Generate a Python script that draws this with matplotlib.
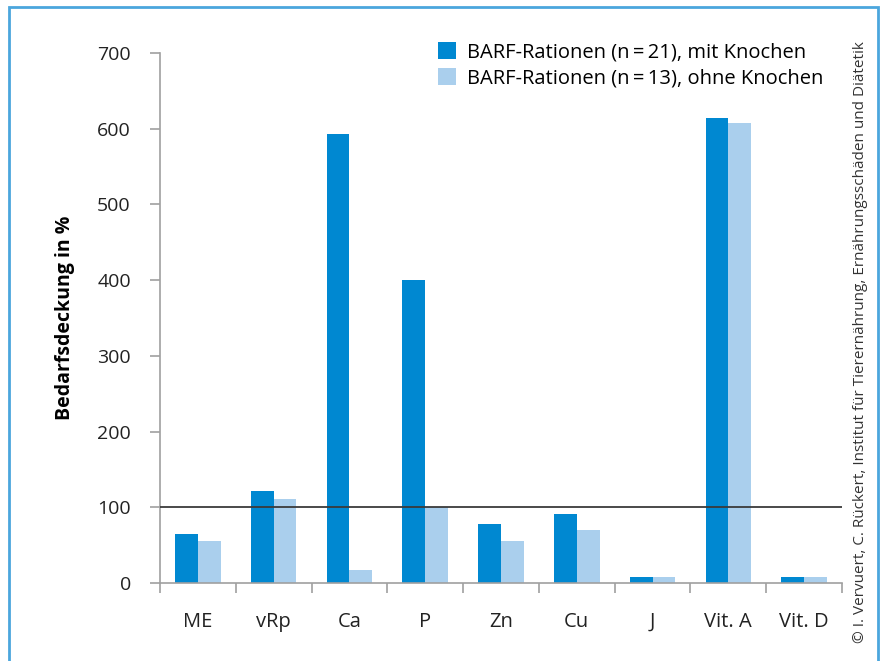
import numpy as np
import matplotlib.pyplot as plt
from matplotlib.patches import Rectangle

plt.rcParams['font.family'] = ['Open Sans', 'DejaVu Sans']

categories = ["ME", "vRp", "Ca", "P", "Zn", "Cu", "J", "Vit. A", "Vit. D"]
mit_knochen = [65, 122, 593, 400, 78, 91, 8, 614, 8]
ohne_knochen = [56, 111, 17, 100, 56, 70, 8, 608, 8]
labels = ["BARF-Rationen (n\u2009=\u200921), mit Knochen", "BARF-Rationen (n\u2009=\u200913), ohne Knochen"]

c_dark = "#0088d1"
c_light = "#aacfed"
c_axis = "#a0a0a0"

fig = plt.figure(figsize=(8.81, 6.61), dpi=100)
ax = fig.add_axes([160/881, 1 - 583/661, (842 - 160)/881, (583 - 53)/661])

x = np.arange(len(categories))
w = 0.30
ax.bar(x - w/2, mit_knochen, w, color=c_dark, label=labels[0])
ax.bar(x + w/2, ohne_knochen, w, color=c_light, label=labels[1])

# 100 % Bedarfslinie
ax.axhline(100, color="#3a3a3a", linewidth=1.3, zorder=3)

ax.set_xlim(-0.5, len(categories) - 0.5)
ax.set_ylim(0, 700)
ax.set_yticks(np.arange(0, 701, 100))
ax.set_xticks(x)
ax.set_xticklabels(categories, fontsize=14.5, color="#222222")
ax.set_xticks(np.arange(-0.5, len(categories), 1), minor=True)
ax.tick_params(axis="x", which="major", length=0, pad=21)
ax.tick_params(axis="x", which="minor", length=7, color=c_axis, width=1.2)
ax.tick_params(axis="y", length=7, color=c_axis, width=1.2, labelsize=14, pad=14, labelcolor="#222222")

for s in ["top", "right"]:
    ax.spines[s].set_visible(False)
for s in ["left", "bottom"]:
    ax.spines[s].set_color(c_axis)
    ax.spines[s].set_linewidth(1.2)

ax.set_ylabel("Bedarfsdeckung in %", fontsize=14, fontweight="bold", labelpad=16)

ax.legend(loc="upper left", bbox_to_anchor=(438/881, 1 - 42/661), bbox_transform=fig.transFigure,
          frameon=False, fontsize=14.5, borderpad=0, borderaxespad=0,
          handlelength=0.9, handleheight=0.9, handletextpad=0.55, labelspacing=0.3)

fig.text(860/881, 1 - 342/661, "© I. Vervuert, C. Rückert, Institut für Tierernährung, Ernährungsschäden und Diätetik",
         rotation=90, ha="center", va="center", fontsize=11, color="#333333")

fig.add_artist(Rectangle((9/881, -0.05), (878 - 9)/881, 1.05 - 7/661,
                         transform=fig.transFigure, fill=False, edgecolor="#4ba6dd", linewidth=2))

fig.savefig("out.png", dpi=100)
